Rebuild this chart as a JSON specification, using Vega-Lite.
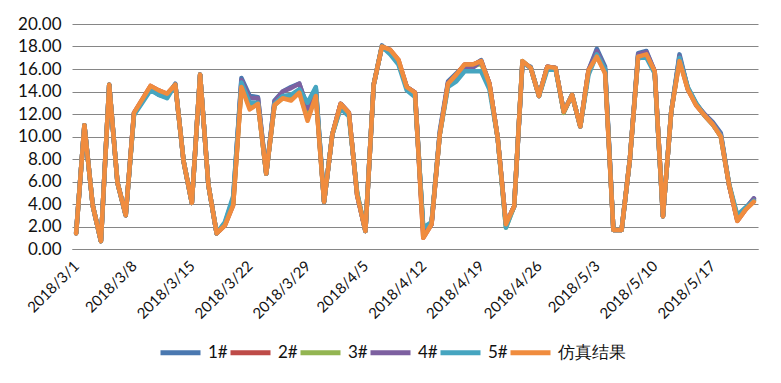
{
  "$schema": "https://vega.github.io/schema/vega-lite/v6.json",
  "width": 686,
  "height": 225,
  "autosize": {"type": "none"},
  "padding": {"left": 72, "top": 24, "right": 23, "bottom": 134},
  "background": "white",
  "config": {
    "view": {"stroke": null},
    "font": "Lato",
    "axis": {"labelFont": "Lato", "labelColor": "#111111"},
    "legend": {"labelFont": "Lato"}
  },
  "data": {
    "values": [
      {"d":"2018/3/1","1#":1.5,"2#":1.4,"3#":1.4,"4#":1.4,"5#":1.4,"仿真结果":1.4},
      {"d":"2018/3/2","1#":11.0,"2#":11.0,"3#":11.0,"4#":11.0,"5#":11.0,"仿真结果":11.0},
      {"d":"2018/3/3","1#":3.9,"2#":3.9,"3#":3.9,"4#":3.9,"5#":3.9,"仿真结果":3.9},
      {"d":"2018/3/4","1#":0.7,"2#":0.7,"3#":0.7,"4#":0.7,"5#":0.7,"仿真结果":0.7},
      {"d":"2018/3/5","1#":14.6,"2#":14.6,"3#":14.6,"4#":14.6,"5#":14.6,"仿真结果":14.6},
      {"d":"2018/3/6","1#":5.9,"2#":5.9,"3#":5.9,"4#":5.9,"5#":5.9,"仿真结果":5.9},
      {"d":"2018/3/7","1#":3.0,"2#":3.0,"3#":3.0,"4#":3.0,"5#":3.0,"仿真结果":3.0},
      {"d":"2018/3/8","1#":12.0,"2#":12.1,"3#":12.0,"4#":12.1,"5#":11.9,"仿真结果":12.1},
      {"d":"2018/3/9","1#":13.1,"2#":13.3,"3#":13.2,"4#":13.2,"5#":13.0,"仿真结果":13.3},
      {"d":"2018/3/10","1#":14.2,"2#":14.5,"3#":14.4,"4#":14.3,"5#":14.1,"仿真结果":14.5},
      {"d":"2018/3/11","1#":13.7,"2#":14.1,"3#":14.0,"4#":13.8,"5#":13.7,"仿真结果":14.1},
      {"d":"2018/3/12","1#":13.5,"2#":13.8,"3#":13.7,"4#":13.6,"5#":13.4,"仿真结果":13.8},
      {"d":"2018/3/13","1#":14.7,"2#":14.6,"3#":14.6,"4#":14.6,"5#":14.6,"仿真结果":14.6},
      {"d":"2018/3/14","1#":7.8,"2#":7.8,"3#":7.8,"4#":7.8,"5#":7.8,"仿真结果":7.8},
      {"d":"2018/3/15","1#":4.1,"2#":4.1,"3#":4.1,"4#":4.1,"5#":4.1,"仿真结果":4.1},
      {"d":"2018/3/16","1#":15.5,"2#":15.5,"3#":15.5,"4#":15.5,"5#":15.5,"仿真结果":15.5},
      {"d":"2018/3/17","1#":5.7,"2#":5.7,"3#":5.7,"4#":5.7,"5#":5.7,"仿真结果":5.7},
      {"d":"2018/3/18","1#":1.4,"2#":1.4,"3#":1.4,"4#":1.4,"5#":1.4,"仿真结果":1.4},
      {"d":"2018/3/19","1#":2.3,"2#":2.1,"3#":2.2,"4#":2.2,"5#":2.4,"仿真结果":2.1},
      {"d":"2018/3/20","1#":4.5,"2#":3.9,"3#":4.0,"4#":4.3,"5#":4.7,"仿真结果":3.9},
      {"d":"2018/3/21","1#":15.2,"2#":14.6,"3#":14.5,"4#":15.0,"5#":14.8,"仿真结果":14.4},
      {"d":"2018/3/22","1#":13.6,"2#":12.6,"3#":12.6,"4#":13.4,"5#":13.0,"仿真结果":12.4},
      {"d":"2018/3/23","1#":13.5,"2#":13.0,"3#":13.0,"4#":13.4,"5#":13.0,"仿真结果":12.9},
      {"d":"2018/3/24","1#":6.7,"2#":6.7,"3#":6.7,"4#":6.7,"5#":6.7,"仿真结果":6.7},
      {"d":"2018/3/25","1#":13.2,"2#":12.8,"3#":12.8,"4#":13.1,"5#":12.9,"仿真结果":12.8},
      {"d":"2018/3/26","1#":14.0,"2#":13.5,"3#":13.4,"4#":14.0,"5#":13.6,"仿真结果":13.4},
      {"d":"2018/3/27","1#":14.4,"2#":13.4,"3#":13.4,"4#":14.3,"5#":13.7,"仿真结果":13.2},
      {"d":"2018/3/28","1#":14.7,"2#":14.0,"3#":14.0,"4#":14.7,"5#":14.2,"仿真结果":13.9},
      {"d":"2018/3/29","1#":12.6,"2#":11.6,"3#":11.7,"4#":12.5,"5#":13.0,"仿真结果":11.4},
      {"d":"2018/3/30","1#":14.3,"2#":13.7,"3#":13.8,"4#":14.2,"5#":14.4,"仿真结果":13.6},
      {"d":"2018/3/31","1#":4.2,"2#":4.2,"3#":4.2,"4#":4.2,"5#":4.2,"仿真结果":4.2},
      {"d":"2018/4/1","1#":10.2,"2#":10.2,"3#":10.2,"4#":10.2,"5#":10.2,"仿真结果":10.2},
      {"d":"2018/4/2","1#":12.9,"2#":12.9,"3#":12.6,"4#":12.9,"5#":12.5,"仿真结果":12.9},
      {"d":"2018/4/3","1#":12.1,"2#":12.1,"3#":11.9,"4#":12.1,"5#":11.8,"仿真结果":12.1},
      {"d":"2018/4/4","1#":4.8,"2#":4.8,"3#":5.0,"4#":4.8,"5#":5.0,"仿真结果":4.8},
      {"d":"2018/4/5","1#":1.6,"2#":1.6,"3#":1.6,"4#":1.6,"5#":1.6,"仿真结果":1.6},
      {"d":"2018/4/6","1#":14.6,"2#":14.6,"3#":14.6,"4#":14.6,"5#":14.6,"仿真结果":14.6},
      {"d":"2018/4/7","1#":18.1,"2#":18.0,"3#":18.0,"4#":18.0,"5#":18.0,"仿真结果":18.0},
      {"d":"2018/4/8","1#":17.4,"2#":17.7,"3#":17.6,"4#":17.5,"5#":17.3,"仿真结果":17.7},
      {"d":"2018/4/9","1#":16.5,"2#":16.8,"3#":16.7,"4#":16.6,"5#":16.4,"仿真结果":16.8},
      {"d":"2018/4/10","1#":14.4,"2#":14.4,"3#":14.3,"4#":14.4,"5#":14.1,"仿真结果":14.4},
      {"d":"2018/4/11","1#":13.9,"2#":13.9,"3#":13.7,"4#":13.9,"5#":13.5,"仿真结果":13.9},
      {"d":"2018/4/12","1#":1.6,"2#":1.0,"3#":1.8,"4#":1.5,"5#":1.9,"仿真结果":1.0},
      {"d":"2018/4/13","1#":2.2,"2#":2.2,"3#":2.3,"4#":2.2,"5#":2.4,"仿真结果":2.2},
      {"d":"2018/4/14","1#":10.5,"2#":10.2,"3#":10.2,"4#":10.3,"5#":10.2,"仿真结果":10.2},
      {"d":"2018/4/15","1#":14.9,"2#":14.7,"3#":14.6,"4#":14.8,"5#":14.4,"仿真结果":14.7},
      {"d":"2018/4/16","1#":15.6,"2#":15.5,"3#":15.3,"4#":15.3,"5#":14.9,"仿真结果":15.5},
      {"d":"2018/4/17","1#":16.3,"2#":16.4,"3#":16.2,"4#":16.1,"5#":15.8,"仿真结果":16.4},
      {"d":"2018/4/18","1#":16.3,"2#":16.4,"3#":16.2,"4#":16.1,"5#":15.8,"仿真结果":16.4},
      {"d":"2018/4/19","1#":16.8,"2#":16.7,"3#":16.5,"4#":16.7,"5#":15.8,"仿真结果":16.7},
      {"d":"2018/4/20","1#":14.7,"2#":14.7,"3#":14.6,"4#":14.7,"5#":14.2,"仿真结果":14.7},
      {"d":"2018/4/21","1#":9.9,"2#":9.9,"3#":9.9,"4#":9.9,"5#":9.9,"仿真结果":9.9},
      {"d":"2018/4/22","1#":2.2,"2#":2.2,"3#":1.9,"4#":2.2,"5#":1.9,"仿真结果":2.2},
      {"d":"2018/4/23","1#":3.8,"2#":3.8,"3#":3.8,"4#":3.8,"5#":3.8,"仿真结果":3.8},
      {"d":"2018/4/24","1#":16.5,"2#":16.7,"3#":16.7,"4#":16.6,"5#":16.6,"仿真结果":16.7},
      {"d":"2018/4/25","1#":16.2,"2#":16.1,"3#":16.1,"4#":16.1,"5#":16.1,"仿真结果":16.1},
      {"d":"2018/4/26","1#":13.6,"2#":13.6,"3#":13.6,"4#":13.6,"5#":13.6,"仿真结果":13.6},
      {"d":"2018/4/27","1#":16.2,"2#":16.2,"3#":16.1,"4#":16.2,"5#":15.9,"仿真结果":16.2},
      {"d":"2018/4/28","1#":16.1,"2#":16.1,"3#":16.1,"4#":16.1,"5#":16.0,"仿真结果":16.1},
      {"d":"2018/4/29","1#":12.2,"2#":12.2,"3#":12.1,"4#":12.2,"5#":12.2,"仿真结果":12.2},
      {"d":"2018/4/30","1#":13.7,"2#":13.7,"3#":13.7,"4#":13.7,"5#":13.7,"仿真结果":13.7},
      {"d":"2018/5/1","1#":10.9,"2#":10.9,"3#":10.9,"4#":10.9,"5#":10.9,"仿真结果":10.9},
      {"d":"2018/5/2","1#":15.9,"2#":15.9,"3#":15.8,"4#":15.9,"5#":15.5,"仿真结果":15.9},
      {"d":"2018/5/3","1#":17.8,"2#":17.2,"3#":17.2,"4#":17.6,"5#":17.3,"仿真结果":17.1},
      {"d":"2018/5/4","1#":16.2,"2#":15.7,"3#":15.8,"4#":16.0,"5#":16.0,"仿真结果":15.6},
      {"d":"2018/5/5","1#":1.7,"2#":1.7,"3#":1.7,"4#":1.7,"5#":1.7,"仿真结果":1.7},
      {"d":"2018/5/6","1#":1.7,"2#":1.7,"3#":1.7,"4#":1.7,"5#":1.7,"仿真结果":1.7},
      {"d":"2018/5/7","1#":8.0,"2#":8.0,"3#":8.0,"4#":8.0,"5#":8.0,"仿真结果":8.0},
      {"d":"2018/5/8","1#":17.4,"2#":17.1,"3#":17.2,"4#":17.3,"5#":17.1,"仿真结果":17.1},
      {"d":"2018/5/9","1#":17.6,"2#":17.3,"3#":17.2,"4#":17.5,"5#":17.0,"仿真结果":17.3},
      {"d":"2018/5/10","1#":15.8,"2#":15.8,"3#":15.7,"4#":15.8,"5#":15.6,"仿真结果":15.8},
      {"d":"2018/5/11","1#":2.9,"2#":2.9,"3#":2.9,"4#":2.9,"5#":2.9,"仿真结果":2.9},
      {"d":"2018/5/12","1#":12.2,"2#":12.2,"3#":12.2,"4#":12.2,"5#":12.2,"仿真结果":12.2},
      {"d":"2018/5/13","1#":17.3,"2#":16.8,"3#":16.9,"4#":17.1,"5#":17.0,"仿真结果":16.7},
      {"d":"2018/5/14","1#":14.3,"2#":14.2,"3#":14.3,"4#":14.3,"5#":14.4,"仿真结果":14.2},
      {"d":"2018/5/15","1#":12.9,"2#":12.8,"3#":12.9,"4#":12.9,"5#":13.0,"仿真结果":12.8},
      {"d":"2018/5/16","1#":12.0,"2#":11.9,"3#":11.9,"4#":12.0,"5#":11.9,"仿真结果":11.9},
      {"d":"2018/5/17","1#":11.3,"2#":11.1,"3#":11.1,"4#":11.2,"5#":11.1,"仿真结果":11.1},
      {"d":"2018/5/18","1#":10.3,"2#":10.0,"3#":10.0,"4#":10.2,"5#":10.1,"仿真结果":10.0},
      {"d":"2018/5/19","1#":5.7,"2#":5.7,"3#":5.7,"4#":5.7,"5#":5.8,"仿真结果":5.7},
      {"d":"2018/5/20","1#":2.6,"2#":2.5,"3#":2.9,"4#":2.6,"5#":3.0,"仿真结果":2.5},
      {"d":"2018/5/21","1#":3.6,"2#":3.5,"3#":3.6,"4#":3.6,"5#":3.7,"仿真结果":3.5},
      {"d":"2018/5/22","1#":4.5,"2#":4.4,"3#":4.3,"4#":4.5,"5#":4.3,"仿真结果":4.2}
    ]
  },
  "transform": [
    {"fold": ["1#", "2#", "3#", "4#", "5#", "仿真结果"], "as": ["series", "v"]}
  ],
  "mark": {"type": "line", "strokeWidth": 4.5, "strokeJoin": "round", "strokeCap": "round"},
  "encoding": {
    "x": {
      "field": "d",
      "type": "ordinal",
      "sort": null,
      "scale": {"type": "point", "padding": 0.5},
      "axis": {
        "title": null,
        "values": ["2018/3/1","2018/3/8","2018/3/15","2018/3/22","2018/3/29","2018/4/5","2018/4/12","2018/4/19","2018/4/26","2018/5/3","2018/5/10","2018/5/17"],
        "labelAngle": -45,
        "labelAlign": "right",
        "labelBaseline": "middle",
        "labelFontSize": 15,
        "labelPadding": 14,
        "ticks": false,
        "domain": true,
        "domainColor": "#868686",
        "grid": false
      }
    },
    "y": {
      "field": "v",
      "type": "quantitative",
      "scale": {"domain": [0, 20], "nice": false, "zero": true},
      "axis": {
        "title": null,
        "values": [0,2,4,6,8,10,12,14,16,18,20],
        "format": ".2f",
        "labelFontSize": 17,
        "labelPadding": 11,
        "ticks": false,
        "domain": false,
        "grid": true,
        "gridColor": "#868686",
        "gridWidth": 1,
        "gridOpacity": 1
      }
    },
    "color": {
      "field": "series",
      "type": "nominal",
      "sort": null,
      "scale": {
        "domain": ["1#", "2#", "3#", "4#", "5#", "仿真结果"],
        "range": ["#4A78B0", "#BE4B48", "#93B552", "#7D60A0", "#46A5C0", "#F08C3E"]
      },
      "legend": {
        "title": null,
        "orient": "none",
        "direction": "horizontal",
        "legendX": 86,
        "legendY": 306,
        "symbolType": "stroke",
        "symbolSize": 1600,
        "symbolStrokeWidth": 5,
        "labelFontSize": 17,
        "labelColor": "#111111",
        "labelOffset": 5,
        "columnPadding": -8
      }
    }
  }
}
